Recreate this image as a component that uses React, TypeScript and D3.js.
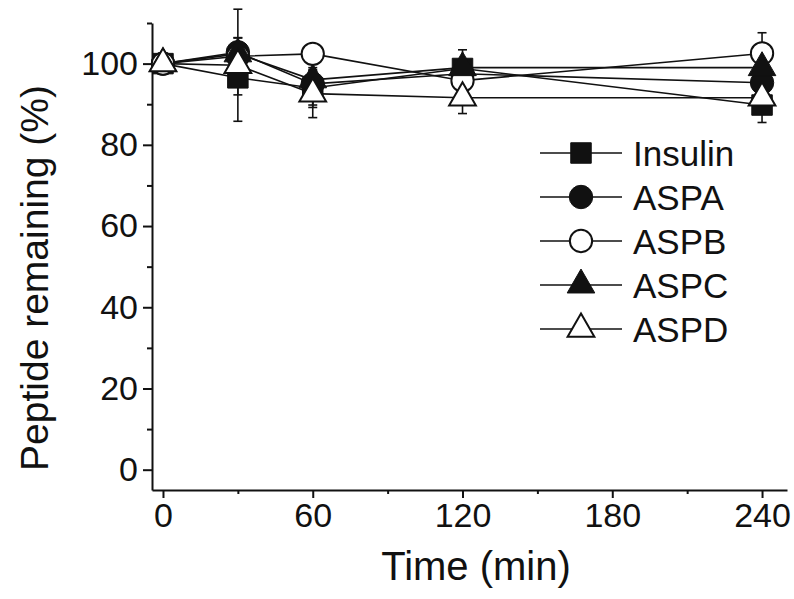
import React, { useEffect, useRef } from "react";
import * as d3 from "d3";

// time points (min)
const times = [0, 30, 60, 120, 240];

// peptide remaining (%) and error (SD)
const insulin = [100, 96.5, 94, 98.8, 89.8];
const insulinErr = [0, 4.2, 4.2, 4.6, 4.3];
const aspa = [100, 102.8, 95, 97.5, 95.3];
const aspaErr = [0, 3.5, 5.8, 2, 2.7];
const aspb = [100, 101.8, 102.4, 95.8, 102.5];
const aspbErr = [0, 1.5, 1.3, 1, 5.1];
const aspc = [100, 102.4, 96, 99, 99];
const aspcErr = [0, 4, 3, 2, 2];
const aspd = [100, 99.6, 92.6, 91.6, 91.6];
const aspdErr = [0, 13.8, 5.9, 3.9, 2];

const seriesNames = ["Insulin", "ASPA", "ASPB", "ASPC", "ASPD"];
const xTicks = [0, 60, 120, 180, 240];
const xMinorTicks = [30, 90, 150, 210];
const yTicks = [0, 20, 40, 60, 80, 100];
const yMinorTicks = [10, 30, 50, 70, 90, 110];

const FONT = "'Liberation Sans', Arial, Helvetica, sans-serif";

const App = () => {
  const svgRef = useRef<SVGSVGElement | null>(null);

  useEffect(() => {
    const width = 794;
    const height = 599;
    const svg = d3.select(svgRef.current);
    svg.selectAll("*").remove();
    svg.attr("width", width).attr("height", height);

    const x = d3.scaleLinear().domain([-4.4, 250]).range([152, 787]);
    const y = d3.scaleLinear().domain([-5, 110]).range([490, 23]);

    const series = [
      { name: seriesNames[0], values: insulin, err: insulinErr, shape: d3.symbolSquare, size: 420, filled: true },
      { name: seriesNames[1], values: aspa, err: aspaErr, shape: d3.symbolCircle, size: 430, filled: true },
      { name: seriesNames[2], values: aspb, err: aspbErr, shape: d3.symbolCircle, size: 390, filled: false },
      { name: seriesNames[3], values: aspc, err: aspcErr, shape: d3.symbolTriangle, size: 330, filled: true },
      { name: seriesNames[4], values: aspd, err: aspdErr, shape: d3.symbolTriangle, size: 310, filled: false },
    ];

    // axes
    const yAxis = svg.append("g").attr("transform", `translate(${x(-4.4)},0)`);
    yAxis
      .call(d3.axisLeft(y).tickValues(yTicks).tickSize(9).tickSizeOuter(0).tickPadding(5))
      .call((g) => g.selectAll("path, line").attr("stroke", "#111").attr("stroke-width", 2))
      .call((g) =>
        g.selectAll("text").attr("font-family", FONT).attr("font-size", 34).attr("fill", "#111"),
      );
    yAxis
      .append("g")
      .call(d3.axisLeft(y).tickValues(yMinorTicks).tickSize(5).tickFormat(() => ""))
      .call((g) => g.select(".domain").remove())
      .call((g) => g.selectAll("line").attr("stroke", "#111").attr("stroke-width", 2));

    const xAxis = svg.append("g").attr("transform", `translate(0,${y(-5)})`);
    xAxis
      .call(d3.axisBottom(x).tickValues(xTicks).tickSize(8).tickSizeOuter(0).tickPadding(5))
      .call((g) => g.selectAll("path, line").attr("stroke", "#111").attr("stroke-width", 2))
      .call((g) =>
        g.selectAll("text").attr("font-family", FONT).attr("font-size", 34).attr("fill", "#111"),
      );
    xAxis
      .append("g")
      .call(d3.axisBottom(x).tickValues(xMinorTicks).tickSize(4).tickFormat(() => ""))
      .call((g) => g.select(".domain").remove())
      .call((g) => g.selectAll("line").attr("stroke", "#111").attr("stroke-width", 2));

    // axis titles
    svg
      .append("text")
      .attr("x", 476)
      .attr("y", 580)
      .attr("text-anchor", "middle")
      .attr("font-family", FONT)
      .attr("font-size", 40)
      .attr("fill", "#111")
      .text("Time (min)");
    svg
      .append("text")
      .attr("transform", "translate(48,278) rotate(-90)")
      .attr("text-anchor", "middle")
      .attr("font-family", FONT)
      .attr("font-size", 39)
      .attr("fill", "#111")
      .text("Peptide remaining (%)");

    const plot = svg.append("g");

    // connecting lines
    const line = d3
      .line<number>()
      .x((d, i) => x(times[i]))
      .y((d) => y(d));
    series.forEach((s) => {
      plot
        .append("path")
        .attr("d", line(s.values))
        .attr("fill", "none")
        .attr("stroke", "#111")
        .attr("stroke-width", 1.6);
    });

    // error bars
    series.forEach((s) => {
      const eb = plot.append("g").attr("stroke", "#111").attr("stroke-width", 1.6);
      s.values.forEach((v, i) => {
        if (!s.err[i]) return;
        const cx = x(times[i]);
        const lo = y(v - s.err[i]);
        const hi = y(v + s.err[i]);
        eb.append("line").attr("x1", cx).attr("x2", cx).attr("y1", lo).attr("y2", hi);
        eb.append("line").attr("x1", cx - 4.5).attr("x2", cx + 4.5).attr("y1", lo).attr("y2", lo);
        eb.append("line").attr("x1", cx - 4.5).attr("x2", cx + 4.5).attr("y1", hi).attr("y2", hi);
      });
    });

    // markers
    series.forEach((s) => {
      const sym = d3.symbol().type(s.shape).size(s.size);
      plot
        .append("g")
        .selectAll("path")
        .data(s.values)
        .join("path")
        .attr("transform", (d, i) => `translate(${x(times[i])},${y(d)})`)
        .attr("d", sym())
        .attr("fill", s.filled ? "#111" : "#fff")
        .attr("stroke", "#111")
        .attr("stroke-width", s.filled ? 1 : 2);
    });

    // legend
    const legend = svg.append("g").attr("transform", "translate(540,153)");
    const row = d3.scalePoint<string>().domain(seriesNames).range([0, 176]);
    series.forEach((s) => {
      const g = legend.append("g").attr("transform", `translate(0,${row(s.name)})`);
      g.append("line")
        .attr("x1", 0)
        .attr("x2", 82)
        .attr("stroke", "#111")
        .attr("stroke-width", 1.6);
      g.append("path")
        .attr("transform", "translate(41,0)")
        .attr("d", d3.symbol().type(s.shape).size(s.size)())
        .attr("fill", s.filled ? "#111" : "#fff")
        .attr("stroke", "#111")
        .attr("stroke-width", s.filled ? 1 : 2);
      g.append("text")
        .attr("x", 93)
        .attr("y", 12.5)
        .attr("font-family", FONT)
        .attr("font-size", 35)
        .attr("fill", "#111")
        .text(s.name);
    });
  }, []);

  return (
    <div style={{ position: "absolute", left: 0, top: 0, background: "#fff" }}>
      <svg ref={svgRef} />
    </div>
  );
};

export default App;
